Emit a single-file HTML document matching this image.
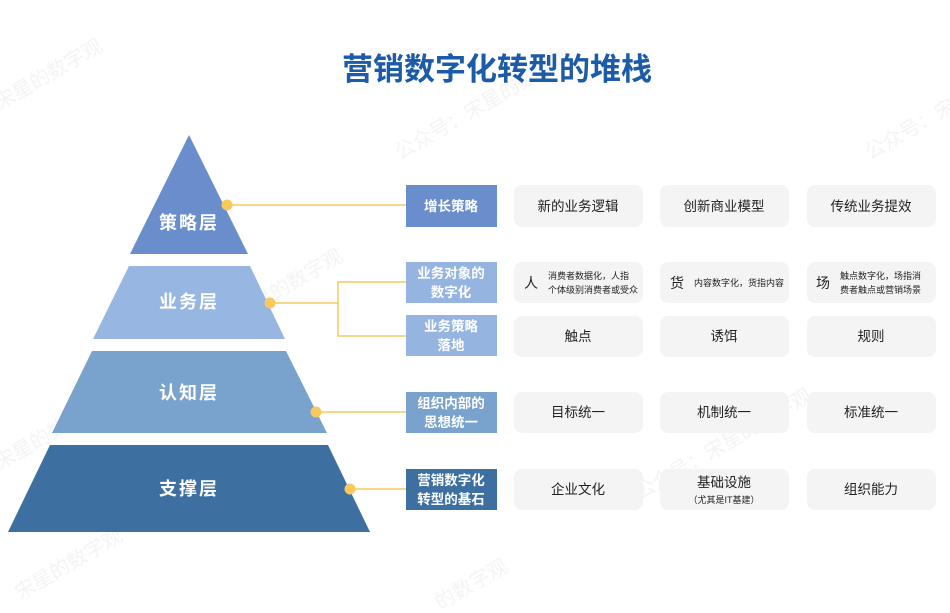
<!DOCTYPE html>
<html><head><meta charset="utf-8"><style>
html,body{margin:0;padding:0;background:#fff;}
body{width:950px;height:608px;overflow:hidden;}
svg text{font-family:"Liberation Sans","Noto Sans CJK SC",sans-serif;}
</style></head><body>
<svg width="950" height="608" viewBox="0 0 950 608" xmlns="http://www.w3.org/2000/svg">
<g fill="#e6e6e6" font-size="20" opacity="0.45">
<text transform="translate(0,110) rotate(-30)">宋星的数字观</text>
<text transform="translate(400,160) rotate(-30)">公众号：宋星的数字观</text>
<text transform="translate(870,160) rotate(-30)">公众号：宋星</text>
<text transform="translate(240,320) rotate(-30)">宋星的数字观</text>
<text transform="translate(0,470) rotate(-30)">宋星的数字观</text>
<text transform="translate(640,500) rotate(-30)">公众号：宋星的数字观</text>
<text transform="translate(20,600) rotate(-30)">宋星的数字观</text>
<text transform="translate(440,610) rotate(-30)">的数字观</text>
</g>
<text x="497" y="80" text-anchor="middle" font-size="31" font-weight="bold" fill="#1c5ba8">营销数字化转型的堆栈</text>
<polygon points="189,135 248,254 130,254" fill="#6a8dcb"/>
<polygon points="129,266 250,266 285,339 93,339" fill="#97b6e1"/>
<polygon points="92,351 286,351 327,433 52,433" fill="#79a2cc"/>
<polygon points="50,445 328,445 370,532 8,532" fill="#3d6fa0"/>
<g fill="#fff" font-size="18" font-weight="bold" text-anchor="middle" letter-spacing="2">
<text x="189" y="229">策略层</text>
<text x="189" y="308">业务层</text>
<text x="189" y="399">认知层</text>
<text x="189" y="495">支撑层</text>
</g>
<g stroke="#f9c85f" stroke-width="1.5" fill="none">
<line x1="227" y1="205" x2="406" y2="205"/>
<line x1="270" y1="303" x2="338" y2="303"/>
<polyline points="406,282 338,282 338,336 406,336"/>
<line x1="316" y1="412" x2="406" y2="412"/>
<line x1="350" y1="489" x2="406" y2="489"/>
</g>
<g fill="#f9c85f">
<circle cx="227" cy="205" r="5.5"/><circle cx="270" cy="303" r="5.5"/>
<circle cx="316" cy="412" r="5.5"/><circle cx="350" cy="489" r="5.5"/>
</g>
<rect x="406" y="185" width="91" height="42" fill="#6a8dcb"/>
<rect x="406" y="262" width="91" height="41" fill="#95b5e0"/>
<rect x="406" y="315" width="91" height="41" fill="#95b5e0"/>
<rect x="406" y="392" width="91" height="41" fill="#79a2cc"/>
<rect x="406" y="469" width="91" height="41" fill="#3d6fa0"/>
<g fill="#fff" font-size="13.5" font-weight="bold" text-anchor="middle">
<text x="451" y="211">增长策略</text>
<text x="451" y="278">业务对象的</text><text x="451" y="297">数字化</text>
<text x="451" y="331">业务策略</text><text x="451" y="350">落地</text>
<text x="451" y="408">组织内部的</text><text x="451" y="427">思想统一</text>
<text x="451" y="485">营销数字化</text><text x="451" y="504">转型的基石</text>
</g>
<g fill="#f4f4f4">
<rect x="514" y="185" width="129" height="42" rx="8"/><rect x="660" y="185" width="129" height="42" rx="8"/><rect x="807" y="185" width="129" height="42" rx="8"/>
<rect x="514" y="262" width="129" height="41" rx="8"/><rect x="660" y="262" width="129" height="41" rx="8"/><rect x="807" y="262" width="129" height="41" rx="8"/>
<rect x="514" y="316" width="129" height="41" rx="8"/><rect x="660" y="316" width="129" height="41" rx="8"/><rect x="807" y="316" width="129" height="41" rx="8"/>
<rect x="514" y="392" width="129" height="41" rx="8"/><rect x="660" y="392" width="129" height="41" rx="8"/><rect x="807" y="392" width="129" height="41" rx="8"/>
<rect x="514" y="469" width="129" height="41" rx="8"/><rect x="660" y="469" width="129" height="41" rx="8"/><rect x="807" y="469" width="129" height="41" rx="8"/>
</g>
<g fill="#222" font-size="13.5" text-anchor="middle">
<text x="578" y="211">新的业务逻辑</text><text x="724" y="211">创新商业模型</text><text x="871" y="211">传统业务提效</text>
<text x="578" y="341">触点</text><text x="724" y="341">诱饵</text><text x="871" y="341">规则</text>
<text x="578" y="417">目标统一</text><text x="724" y="417">机制统一</text><text x="871" y="417">标准统一</text>
<text x="578" y="494">企业文化</text><text x="724" y="487">基础设施</text><text x="871" y="494">组织能力</text>
<text x="724" y="503" font-size="9">（尤其是IT基建）</text>
</g>
<g fill="#222">
<text x="531" y="288" font-size="14" text-anchor="middle">人</text>
<text x="677" y="288" font-size="14" text-anchor="middle">货</text>
<text x="823" y="288" font-size="14" text-anchor="middle">场</text>
<g font-size="9">
<text x="548" y="279">消费者数据化，人指</text><text x="548" y="293">个体级别消费者或受众</text>
<text x="694" y="286">内容数字化，货指内容</text>
<text x="840" y="279">触点数字化，场指消</text><text x="840" y="293">费者触点或营销场景</text>
</g>
</g>
</svg>
</body></html>
